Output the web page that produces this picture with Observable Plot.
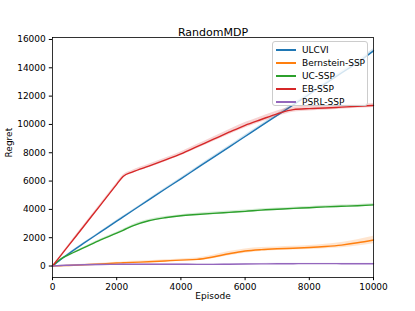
<!DOCTYPE html>
<html>
<head>
<meta charset="utf-8">
<script src="https://cdn.jsdelivr.net/npm/d3@7"></script>
<script src="https://cdn.jsdelivr.net/npm/@observablehq/plot@0.6"></script>
<style>
  html, body { margin: 0; padding: 0; background: #fff; }
  #wrap { position: relative; width: 415px; height: 311px; font-family: "DejaVu Sans", sans-serif; }
  #legend { position: absolute; left: 272px; top: 41px; width: 96px; height: 65px;
    box-sizing: border-box; border: 1px solid #cccccc; border-radius: 3px;
    background: rgba(255,255,255,0.8); font-size: 9px; color: #000; }
  .row { position: absolute; left: 0; height: 12px; line-height: 12px; white-space: nowrap; }
  .swatch { position: absolute; left: 3px; top: 5px; width: 20px; height: 1.5px; }
  .lab { position: absolute; left: 29px; top: 0; }
</style>
</head>
<body>
<div id="wrap"></div>
<script>
const episodes = [0, 250, 500, 1000, 1500, 2000, 2200, 2500, 3000, 3500, 4000, 4500, 5000, 5500, 6000, 6500, 7000, 7500, 8000, 8500, 9000, 9500, 10000];

const names = ["ULCVI", "Bernstein-SSP", "UC-SSP", "EB-SSP", "PSRL-SSP"];
const colors = ["#1f77b4", "#ff7f0e", "#2ca02c", "#d62728", "#9467bd"];

const ulcvi     = [0, 450, 870, 1650, 2410, 3170, 3470, 3920, 4670, 5420, 6160, 6910, 7660, 8400, 9150, 9900, 10640, 11380, 12130, 12880, 13630, 14370, 15200];
const bernstein = [0, 20, 40, 90, 150, 210, 230, 260, 300, 360, 420, 470, 640, 870, 1060, 1160, 1220, 1260, 1310, 1380, 1480, 1640, 1840];
const ucssp     = [0, 480, 790, 1320, 1850, 2320, 2520, 2840, 3200, 3410, 3550, 3640, 3720, 3790, 3860, 3950, 4010, 4070, 4120, 4180, 4220, 4260, 4320];
const ebssp     = [0, 720, 1440, 2880, 4320, 5770, 6330, 6650, 7060, 7480, 7920, 8430, 8940, 9450, 9940, 10350, 10750, 11050, 11120, 11160, 11220, 11280, 11345];
const psrl      = [0, 40, 60, 90, 110, 120, 125, 130, 130, 130, 125, 120, 120, 130, 140, 150, 160, 165, 170, 170, 165, 160, 160];

// half-width of the shaded confidence band for each series
const ulcviBand     = [0, 20, 30, 40, 50, 60, 60, 60, 70, 70, 80, 80, 90, 90, 100, 100, 110, 110, 120, 120, 130, 130, 140];
const bernsteinBand = [0, 20, 30, 40, 50, 60, 60, 70, 70, 80, 80, 100, 130, 150, 150, 140, 130, 130, 140, 160, 190, 220, 260];
const ucsspBand     = [0, 30, 40, 50, 60, 70, 70, 80, 80, 80, 80, 80, 90, 90, 90, 90, 90, 90, 90, 90, 90, 90, 100];
const ebsspBand     = [0, 40, 60, 80, 90, 100, 100, 110, 120, 130, 140, 150, 160, 170, 190, 200, 200, 190, 170, 160, 150, 140, 140];
const psrlBand      = [0, 20, 25, 30, 30, 30, 30, 30, 30, 30, 30, 30, 30, 30, 35, 35, 35, 35, 35, 35, 35, 35, 35];

const series = [ulcvi, bernstein, ucssp, ebssp, psrl];
const bands = [ulcviBand, bernsteinBand, ucsspBand, ebsspBand, psrlBand];

const yTicks = [0, 2000, 4000, 6000, 8000, 10000, 12000, 14000, 16000];
const xTicks = [0, 2000, 4000, 6000, 8000, 10000];

const marks = [];
series.forEach((vals, i) => {
  const rows = episodes.map((ep, j) => ({ep, v: vals[j], lo: vals[j] - bands[i][j], hi: vals[j] + bands[i][j]}));
  marks.push(Plot.areaY(rows, {x: "ep", y1: "lo", y2: "hi", fill: colors[i], fillOpacity: 0.2, curve: "monotone-x"}));
  marks.push(Plot.line(rows, {x: "ep", y: "v", stroke: colors[i], strokeWidth: 1.4, curve: "monotone-x"}));
});

const chart = Plot.plot({
  width: 415,
  height: 311,
  marginLeft: 52,
  marginRight: 42,
  marginTop: 37,
  marginBottom: 34,
  style: {fontFamily: "DejaVu Sans, sans-serif", fontSize: "9px", background: "#fff", color: "#000"},
  x: {domain: [0, 10000]},
  y: {domain: [-810, 16140]},
  marks: [
    ...marks,
    Plot.axisX({ticks: xTicks, tickFormat: d => String(d), tickSize: 3.2, tickPadding: 3, label: null, fontSize: 9}),
    Plot.axisY({ticks: yTicks, tickFormat: d => String(d), tickSize: 3.2, tickPadding: 3.5, label: null, fontSize: 9}),
    Plot.frame({stroke: "#000", strokeWidth: 0.8}),
    Plot.text(["RandomMDP"], {text: d => d, frameAnchor: "top", dy: -9, fontSize: 11}),
    Plot.text(["Episode"], {text: d => d, frameAnchor: "bottom", dy: 21, fontSize: 9}),
    Plot.text(["Regret"], {text: d => d, frameAnchor: "left", dx: -43.5, rotate: -90, fontSize: 9})
  ]
});

const wrap = document.getElementById("wrap");
wrap.appendChild(chart);

const legend = document.createElement("div");
legend.id = "legend";
names.forEach((n, i) => {
  const row = document.createElement("div");
  row.className = "row";
  row.style.top = (2 + i * 13) + "px";
  row.style.width = "100%";
  const sw = document.createElement("div");
  sw.className = "swatch";
  sw.style.background = colors[i];
  const lab = document.createElement("div");
  lab.className = "lab";
  lab.textContent = n;
  row.appendChild(sw);
  row.appendChild(lab);
  legend.appendChild(row);
});
wrap.appendChild(legend);
</script>
</body>
</html>
